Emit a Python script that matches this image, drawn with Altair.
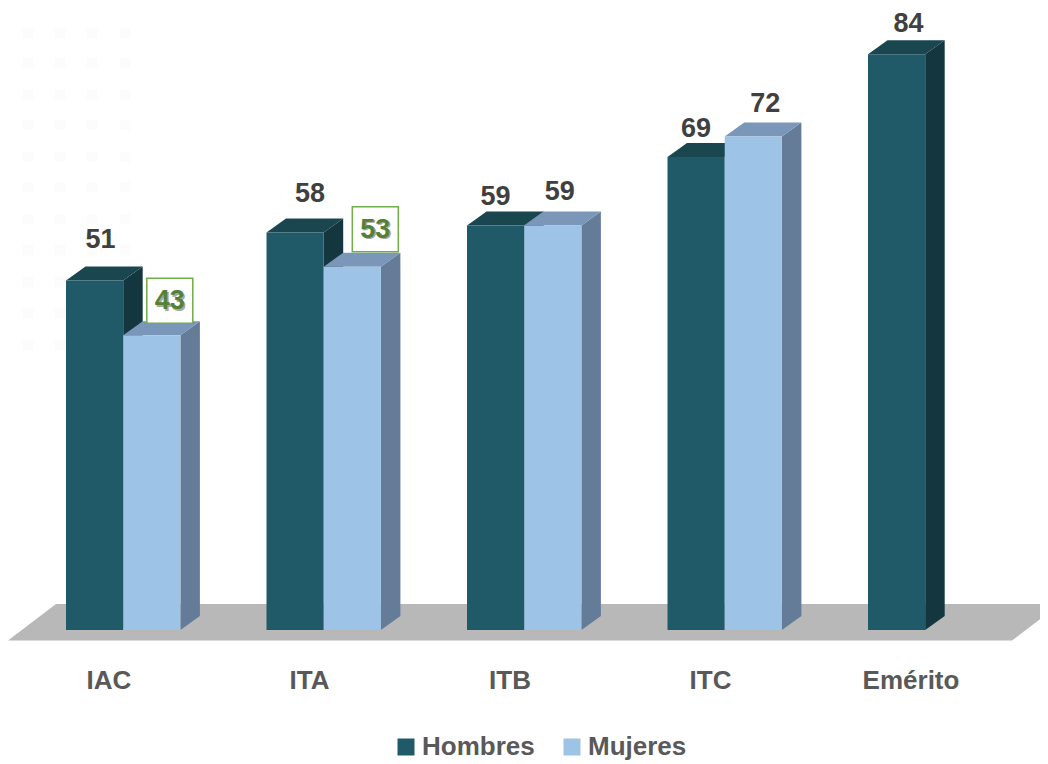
import altair as alt
import pandas as pd

# --- chart values -----------------------------------------------------------
categories = ["IAC", "ITA", "ITB", "ITC", "Emérito"]
hombres = [51, 58, 59, 69, 84]
mujeres = [43, 53, 59, 72, None]
series_names = ["Hombres", "Mujeres"]

# label nudges in pixels, relative to the top centre of each bar's front face
hombres_label_dx = [6, 15, 0, 0, 12]
hombres_label_dy = [-40, -38, -29, -28, -30]
mujeres_label_dx = [18, 23, 7, 12, None]
mujeres_label_dy = [-34, -37, -34, -32, None]
boxed_mujeres = ["IAC", "ITA"]

# --- layout in scale units --------------------------------------------------
W, H = 1032, 756
PX_X = 200.5  # px per category step
PX_Y = 6.855  # px per value unit
X0 = 123.2 - 8  # chart px of the first category's centre
Y0 = 630 - 8  # chart px of value 0
X_DOMAIN = [-X0 / PX_X, (W - X0) / PX_X]
Y_DOMAIN = [(Y0 - H) / PX_Y, Y0 / PX_Y]
BAR_W = 57.2 / PX_X
DEPTH_X = 19.5 / PX_X
DEPTH_Y = 14.0 / PX_Y

FONT = "Liberation Sans"
x_scale = alt.Scale(domain=X_DOMAIN, nice=False, zero=False)
y_scale = alt.Scale(domain=Y_DOMAIN, nice=False, zero=False)
X = alt.X("x:Q", scale=x_scale, axis=None)
Y = alt.Y("y:Q", scale=y_scale, axis=None, stack=None)
color_scale = alt.Scale(domain=series_names, range=["#205A68", "#9DC3E6"])


def px_x(p):
    return (p - 8 - X0) / PX_X


def px_y(p):
    return (Y0 - (p - 8)) / PX_Y


def faces(values, left_offset, name):
    front, side, top = [], [], []
    for i, v in enumerate(values):
        if v is None:
            continue
        l, r = i + left_offset, i + left_offset + BAR_W
        key = f"{name}{i}"
        front.append(dict(x=l, x2=r, y=0, y2=v, serie=name))
        side.append(dict(x=r, y=0, y2=v, k=key))
        side.append(dict(x=r + DEPTH_X, y=DEPTH_Y, y2=v + DEPTH_Y, k=key))
        top.append(dict(x=l, x2=r, y=v, k=key))
        top.append(dict(x=l + DEPTH_X, x2=r + DEPTH_X, y=v + DEPTH_Y, k=key))
    return pd.DataFrame(front), pd.DataFrame(side), pd.DataFrame(top)


def bars(values, left_offset, name, side_color, top_color):
    f, s, t = faces(values, left_offset, name)
    side = alt.Chart(s).mark_area(color=side_color, orient="vertical", clip=True).encode(
        x=X, y=Y, y2="y2:Q", detail="k:N")
    top = alt.Chart(t).mark_area(color=top_color, orient="horizontal", clip=True).encode(
        y=Y, x=X, x2="x2:Q", detail="k:N")
    front = alt.Chart(f).mark_rect().encode(
        x=X, x2="x2:Q", y=Y, y2="y2:Q",
        color=alt.Color(
            "serie:N", scale=color_scale,
            legend=alt.Legend(
                title=None, orient="none", legendX=385, legendY=726,
                direction="horizontal", symbolType="square", symbolSize=289,
                symbolStrokeWidth=0, labelFont=FONT, labelFontSize=26,
                labelFontWeight="bold", labelColor="#595959", columnPadding=24,
                labelOffset=3),
        ),
    )
    return side + top + front


# faint decorative dot pattern behind the chart, upper left
dot_columns = [28, 60, 92, 125]
dot_rows = [3, 33, 63, 95, 125, 157, 187, 219, 250, 282, 313, 345]
dot_df = pd.DataFrame([dict(x=px_x(c), y=px_y(r)) for c in dot_columns for r in dot_rows])
dots = alt.Chart(dot_df).mark_square(size=121, color="#FCFCFC", opacity=1).encode(x=X, y=Y)

floor_df = pd.DataFrame([
    dict(y=px_y(640.5), x=px_x(8), x2=px_x(1012)),
    dict(y=px_y(604), x=px_x(56), x2=px_x(1060)),
])
floor = alt.Chart(floor_df).mark_area(color="#B8B8B8", orient="horizontal", clip=True).encode(
    y=Y, x=X, x2="x2:Q")

h_layers = bars(hombres, -BAR_W, "Hombres", "#14363F", "#1A4650")
m_layers = bars(mujeres, 0, "Mujeres", "#647C98", "#7A96B8")

# value labels
labels = []
for i, c in enumerate(categories):
    for name, vals, off, dxs, dys in (
        ("Hombres", hombres, -BAR_W / 2, hombres_label_dx, hombres_label_dy),
        ("Mujeres", mujeres, BAR_W / 2, mujeres_label_dx, mujeres_label_dy),
    ):
        if vals[i] is None:
            continue
        labels.append(dict(
            x=i + off + dxs[i] / PX_X,
            y=vals[i] - dys[i] / PX_Y,
            t=str(vals[i]),
            boxed=name == "Mujeres" and c in boxed_mujeres,
        ))
label_df = pd.DataFrame(labels)
plain_df = label_df[~label_df.boxed]
boxed_df = label_df[label_df.boxed].copy()
boxed_df["xa"] = boxed_df.x - 23 / PX_X
boxed_df["xb"] = boxed_df.x + 23 / PX_X
boxed_df["ya"] = boxed_df.y - 22 / PX_Y
boxed_df["yb"] = boxed_df.y + 23 / PX_Y

text_args = dict(font=FONT, fontWeight="bold", baseline="middle", align="center")
plain_text = alt.Chart(plain_df).mark_text(color="#404040", fontSize=27, **text_args).encode(
    x=X, y=Y, text="t:N")
boxes = alt.Chart(boxed_df).mark_rect(fill="white", stroke="#70AD47", strokeWidth=1.5).encode(
    x=alt.X("xa:Q", scale=x_scale, axis=None), x2="xb:Q",
    y=alt.Y("ya:Q", scale=y_scale, axis=None), y2="yb:Q")
box_shadow = alt.Chart(boxed_df).mark_text(color="#A8A8A8", dx=1.5, dy=1.5, fontSize=27, **text_args).encode(
    x=X, y=Y, text="t:N")
box_text = alt.Chart(boxed_df).mark_text(color="#548235", fontSize=27, **text_args).encode(
    x=X, y=Y, text="t:N")

# category labels
cat_df = pd.DataFrame(dict(x=[i + px_x(109) - px_x(123.2) for i in range(len(categories))],
                           y=[px_y(681)] * len(categories), t=categories))
cat_text = alt.Chart(cat_df).mark_text(color="#595959", fontSize=26, **text_args).encode(
    x=X, y=Y, text="t:N")

chart = alt.layer(
    dots, floor, h_layers, m_layers, plain_text, boxes, box_shadow, box_text, cat_text
).properties(
    width=W, height=H, padding=0, autosize=alt.AutoSizeParams(type="none"),
    background="#FFFFFF",
).configure_view(stroke=None)

chart.save("out.html", embed_options={"renderer": "svg", "actions": False})
